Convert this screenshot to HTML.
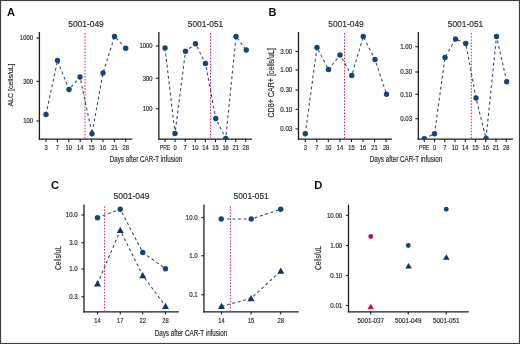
<!DOCTYPE html>
<html><head><meta charset="utf-8"><style>html,body{margin:0;padding:0;background:#fff;}svg{display:block;filter:blur(0.3px);}</style></head><body>
<svg width="520" height="344" viewBox="0 0 520 344" font-family="'Liberation Sans', sans-serif">
<rect x="0" y="0" width="520" height="344" fill="#fff"/>
<rect x="0.55" y="0.55" width="518.9" height="342.9" fill="none" stroke="#404040" stroke-width="1.1"/>
<text x="7" y="16" font-size="11" text-anchor="start" font-weight="bold" fill="#111">A</text>
<text x="86" y="26.8" font-size="9.5" text-anchor="middle" font-weight="normal" fill="#2a2a2a" stroke="#2a2a2a" stroke-width="0.18" textLength="35.5" lengthAdjust="spacingAndGlyphs">5001-049</text>
<text x="205.5" y="26.8" font-size="9.5" text-anchor="middle" font-weight="normal" fill="#2a2a2a" stroke="#2a2a2a" stroke-width="0.18" textLength="35.5" lengthAdjust="spacingAndGlyphs">5001-051</text>
<line x1="39.4" y1="32" x2="39.4" y2="139.75" stroke="#1e1e1e" stroke-width="1.3"/>
<line x1="38.75" y1="139.1" x2="132.3" y2="139.1" stroke="#1e1e1e" stroke-width="1.3"/>
<line x1="36.4" y1="38" x2="39.4" y2="38" stroke="#1e1e1e" stroke-width="1.1"/>
<text x="33.1" y="40.3" font-size="6.5" text-anchor="end" font-weight="normal" fill="#2a2a2a" stroke="#2a2a2a" stroke-width="0.18" textLength="13" lengthAdjust="spacingAndGlyphs">1000</text>
<line x1="36.4" y1="81.3" x2="39.4" y2="81.3" stroke="#1e1e1e" stroke-width="1.1"/>
<text x="33.1" y="83.6" font-size="6.5" text-anchor="end" font-weight="normal" fill="#2a2a2a" stroke="#2a2a2a" stroke-width="0.18" textLength="9.75" lengthAdjust="spacingAndGlyphs">300</text>
<line x1="36.4" y1="121" x2="39.4" y2="121" stroke="#1e1e1e" stroke-width="1.1"/>
<text x="33.1" y="123.3" font-size="6.5" text-anchor="end" font-weight="normal" fill="#2a2a2a" stroke="#2a2a2a" stroke-width="0.18" textLength="9.75" lengthAdjust="spacingAndGlyphs">100</text>
<line x1="46" y1="139.1" x2="46" y2="142.1" stroke="#1e1e1e" stroke-width="1.1"/>
<text x="46" y="150.4" font-size="7.3" text-anchor="middle" font-weight="normal" fill="#2a2a2a" stroke="#2a2a2a" stroke-width="0.18" textLength="3.2" lengthAdjust="spacingAndGlyphs">3</text>
<line x1="57.4" y1="139.1" x2="57.4" y2="142.1" stroke="#1e1e1e" stroke-width="1.1"/>
<text x="57.4" y="150.4" font-size="7.3" text-anchor="middle" font-weight="normal" fill="#2a2a2a" stroke="#2a2a2a" stroke-width="0.18" textLength="3.2" lengthAdjust="spacingAndGlyphs">7</text>
<line x1="68.8" y1="139.1" x2="68.8" y2="142.1" stroke="#1e1e1e" stroke-width="1.1"/>
<text x="68.8" y="150.4" font-size="7.3" text-anchor="middle" font-weight="normal" fill="#2a2a2a" stroke="#2a2a2a" stroke-width="0.18" textLength="6.4" lengthAdjust="spacingAndGlyphs">10</text>
<line x1="80.2" y1="139.1" x2="80.2" y2="142.1" stroke="#1e1e1e" stroke-width="1.1"/>
<text x="80.2" y="150.4" font-size="7.3" text-anchor="middle" font-weight="normal" fill="#2a2a2a" stroke="#2a2a2a" stroke-width="0.18" textLength="6.4" lengthAdjust="spacingAndGlyphs">14</text>
<line x1="91.6" y1="139.1" x2="91.6" y2="142.1" stroke="#1e1e1e" stroke-width="1.1"/>
<text x="91.6" y="150.4" font-size="7.3" text-anchor="middle" font-weight="normal" fill="#2a2a2a" stroke="#2a2a2a" stroke-width="0.18" textLength="6.4" lengthAdjust="spacingAndGlyphs">15</text>
<line x1="103" y1="139.1" x2="103" y2="142.1" stroke="#1e1e1e" stroke-width="1.1"/>
<text x="103" y="150.4" font-size="7.3" text-anchor="middle" font-weight="normal" fill="#2a2a2a" stroke="#2a2a2a" stroke-width="0.18" textLength="6.4" lengthAdjust="spacingAndGlyphs">16</text>
<line x1="114.4" y1="139.1" x2="114.4" y2="142.1" stroke="#1e1e1e" stroke-width="1.1"/>
<text x="114.4" y="150.4" font-size="7.3" text-anchor="middle" font-weight="normal" fill="#2a2a2a" stroke="#2a2a2a" stroke-width="0.18" textLength="6.4" lengthAdjust="spacingAndGlyphs">21</text>
<line x1="125.8" y1="139.1" x2="125.8" y2="142.1" stroke="#1e1e1e" stroke-width="1.1"/>
<text x="125.8" y="150.4" font-size="7.3" text-anchor="middle" font-weight="normal" fill="#2a2a2a" stroke="#2a2a2a" stroke-width="0.18" textLength="6.4" lengthAdjust="spacingAndGlyphs">28</text>
<line x1="85" y1="33.2" x2="85" y2="138.6" stroke="#d42a52" stroke-width="1" stroke-dasharray="1.6 1.45"/>
<clipPath id="c1"><rect x="0" y="0" width="520" height="139.1"/></clipPath><g clip-path="url(#c1)">
<polyline points="46,114.5 57.5,60.5 69,89.5 80,77 92,133.75 103,73 114.5,36.5 125.75,48.25" fill="none" stroke="#30506f" stroke-width="1.1" stroke-dasharray="2.9 2.7"/>
<circle cx="46" cy="114.5" r="2.7" fill="#164574"/>
<circle cx="57.5" cy="60.5" r="2.7" fill="#164574"/>
<circle cx="69" cy="89.5" r="2.7" fill="#164574"/>
<circle cx="80" cy="77" r="2.7" fill="#164574"/>
<circle cx="92" cy="133.75" r="2.7" fill="#164574"/>
<circle cx="103" cy="73" r="2.7" fill="#164574"/>
<circle cx="114.5" cy="36.5" r="2.7" fill="#164574"/>
<circle cx="125.75" cy="48.25" r="2.7" fill="#164574"/>
</g>
<line x1="158.85" y1="32" x2="158.85" y2="139.75" stroke="#1e1e1e" stroke-width="1.3"/>
<line x1="158.2" y1="139.1" x2="252" y2="139.1" stroke="#1e1e1e" stroke-width="1.3"/>
<line x1="155.85" y1="46" x2="158.85" y2="46" stroke="#1e1e1e" stroke-width="1.1"/>
<text x="152.55" y="48.3" font-size="6.5" text-anchor="end" font-weight="normal" fill="#2a2a2a" stroke="#2a2a2a" stroke-width="0.18" textLength="13" lengthAdjust="spacingAndGlyphs">1000</text>
<line x1="155.85" y1="78.25" x2="158.85" y2="78.25" stroke="#1e1e1e" stroke-width="1.1"/>
<text x="152.55" y="80.55" font-size="6.5" text-anchor="end" font-weight="normal" fill="#2a2a2a" stroke="#2a2a2a" stroke-width="0.18" textLength="9.75" lengthAdjust="spacingAndGlyphs">300</text>
<line x1="155.85" y1="108.75" x2="158.85" y2="108.75" stroke="#1e1e1e" stroke-width="1.1"/>
<text x="152.55" y="111.05" font-size="6.5" text-anchor="end" font-weight="normal" fill="#2a2a2a" stroke="#2a2a2a" stroke-width="0.18" textLength="9.75" lengthAdjust="spacingAndGlyphs">100</text>
<line x1="165" y1="139.1" x2="165" y2="142.1" stroke="#1e1e1e" stroke-width="1.1"/>
<text x="165" y="150.4" font-size="7.3" text-anchor="middle" font-weight="normal" fill="#2a2a2a" stroke="#2a2a2a" stroke-width="0.18" textLength="10.5" lengthAdjust="spacingAndGlyphs">PRE</text>
<line x1="175.1" y1="139.1" x2="175.1" y2="142.1" stroke="#1e1e1e" stroke-width="1.1"/>
<text x="175.1" y="150.4" font-size="7.3" text-anchor="middle" font-weight="normal" fill="#2a2a2a" stroke="#2a2a2a" stroke-width="0.18" textLength="3.2" lengthAdjust="spacingAndGlyphs">0</text>
<line x1="185.2" y1="139.1" x2="185.2" y2="142.1" stroke="#1e1e1e" stroke-width="1.1"/>
<text x="185.2" y="150.4" font-size="7.3" text-anchor="middle" font-weight="normal" fill="#2a2a2a" stroke="#2a2a2a" stroke-width="0.18" textLength="3.2" lengthAdjust="spacingAndGlyphs">7</text>
<line x1="195.3" y1="139.1" x2="195.3" y2="142.1" stroke="#1e1e1e" stroke-width="1.1"/>
<text x="195.3" y="150.4" font-size="7.3" text-anchor="middle" font-weight="normal" fill="#2a2a2a" stroke="#2a2a2a" stroke-width="0.18" textLength="6.4" lengthAdjust="spacingAndGlyphs">10</text>
<line x1="205.4" y1="139.1" x2="205.4" y2="142.1" stroke="#1e1e1e" stroke-width="1.1"/>
<text x="205.4" y="150.4" font-size="7.3" text-anchor="middle" font-weight="normal" fill="#2a2a2a" stroke="#2a2a2a" stroke-width="0.18" textLength="6.4" lengthAdjust="spacingAndGlyphs">14</text>
<line x1="215.5" y1="139.1" x2="215.5" y2="142.1" stroke="#1e1e1e" stroke-width="1.1"/>
<text x="215.5" y="150.4" font-size="7.3" text-anchor="middle" font-weight="normal" fill="#2a2a2a" stroke="#2a2a2a" stroke-width="0.18" textLength="6.4" lengthAdjust="spacingAndGlyphs">15</text>
<line x1="225.6" y1="139.1" x2="225.6" y2="142.1" stroke="#1e1e1e" stroke-width="1.1"/>
<text x="225.6" y="150.4" font-size="7.3" text-anchor="middle" font-weight="normal" fill="#2a2a2a" stroke="#2a2a2a" stroke-width="0.18" textLength="6.4" lengthAdjust="spacingAndGlyphs">16</text>
<line x1="235.7" y1="139.1" x2="235.7" y2="142.1" stroke="#1e1e1e" stroke-width="1.1"/>
<text x="235.7" y="150.4" font-size="7.3" text-anchor="middle" font-weight="normal" fill="#2a2a2a" stroke="#2a2a2a" stroke-width="0.18" textLength="6.4" lengthAdjust="spacingAndGlyphs">21</text>
<line x1="245.8" y1="139.1" x2="245.8" y2="142.1" stroke="#1e1e1e" stroke-width="1.1"/>
<text x="245.8" y="150.4" font-size="7.3" text-anchor="middle" font-weight="normal" fill="#2a2a2a" stroke="#2a2a2a" stroke-width="0.18" textLength="6.4" lengthAdjust="spacingAndGlyphs">28</text>
<line x1="210.5" y1="33.2" x2="210.5" y2="138.6" stroke="#d42a52" stroke-width="1" stroke-dasharray="1.6 1.45"/>
<clipPath id="c2"><rect x="0" y="0" width="520" height="139.1"/></clipPath><g clip-path="url(#c2)">
<polyline points="165,48 175,133.5 185.5,51.25 195.5,43.75 205.5,63.5 215.75,118.5 225.75,138.5 236,36.5 246.25,50" fill="none" stroke="#30506f" stroke-width="1.1" stroke-dasharray="2.9 2.7"/>
<circle cx="165" cy="48" r="2.7" fill="#164574"/>
<circle cx="175" cy="133.5" r="2.7" fill="#164574"/>
<circle cx="185.5" cy="51.25" r="2.7" fill="#164574"/>
<circle cx="195.5" cy="43.75" r="2.7" fill="#164574"/>
<circle cx="205.5" cy="63.5" r="2.7" fill="#164574"/>
<circle cx="215.75" cy="118.5" r="2.7" fill="#164574"/>
<circle cx="225.75" cy="138.5" r="2.7" fill="#164574"/>
<circle cx="236" cy="36.5" r="2.7" fill="#164574"/>
<circle cx="246.25" cy="50" r="2.7" fill="#164574"/>
</g>
<text x="146" y="162.2" font-size="9" text-anchor="middle" font-weight="normal" fill="#2a2a2a" stroke="#2a2a2a" stroke-width="0.18" textLength="72.5" lengthAdjust="spacingAndGlyphs">Days after CAR-T infusion</text>
<text x="12.8" y="85" font-size="8" text-anchor="middle" font-weight="normal" fill="#2a2a2a" stroke="#2a2a2a" stroke-width="0.18" textLength="43" lengthAdjust="spacingAndGlyphs" transform="rotate(-90 12.8 85)">ALC [cells/uL]</text>
<text x="268.5" y="16" font-size="11" text-anchor="start" font-weight="bold" fill="#111">B</text>
<text x="346" y="26.8" font-size="9.5" text-anchor="middle" font-weight="normal" fill="#2a2a2a" stroke="#2a2a2a" stroke-width="0.18" textLength="35.5" lengthAdjust="spacingAndGlyphs">5001-049</text>
<text x="465.5" y="26.8" font-size="9.5" text-anchor="middle" font-weight="normal" fill="#2a2a2a" stroke="#2a2a2a" stroke-width="0.18" textLength="35.5" lengthAdjust="spacingAndGlyphs">5001-051</text>
<line x1="298.5" y1="32" x2="298.5" y2="139.75" stroke="#1e1e1e" stroke-width="1.3"/>
<line x1="297.85" y1="139.1" x2="392" y2="139.1" stroke="#1e1e1e" stroke-width="1.3"/>
<line x1="295.5" y1="51.5" x2="298.5" y2="51.5" stroke="#1e1e1e" stroke-width="1.1"/>
<text x="292.2" y="53.8" font-size="6.5" text-anchor="end" font-weight="normal" fill="#2a2a2a" stroke="#2a2a2a" stroke-width="0.18" textLength="11.9" lengthAdjust="spacingAndGlyphs">3.00</text>
<line x1="295.5" y1="70" x2="298.5" y2="70" stroke="#1e1e1e" stroke-width="1.1"/>
<text x="292.2" y="72.3" font-size="6.5" text-anchor="end" font-weight="normal" fill="#2a2a2a" stroke="#2a2a2a" stroke-width="0.18" textLength="11.9" lengthAdjust="spacingAndGlyphs">1.00</text>
<line x1="295.5" y1="90" x2="298.5" y2="90" stroke="#1e1e1e" stroke-width="1.1"/>
<text x="292.2" y="92.3" font-size="6.5" text-anchor="end" font-weight="normal" fill="#2a2a2a" stroke="#2a2a2a" stroke-width="0.18" textLength="11.9" lengthAdjust="spacingAndGlyphs">0.30</text>
<line x1="295.5" y1="109.3" x2="298.5" y2="109.3" stroke="#1e1e1e" stroke-width="1.1"/>
<text x="292.2" y="111.6" font-size="6.5" text-anchor="end" font-weight="normal" fill="#2a2a2a" stroke="#2a2a2a" stroke-width="0.18" textLength="11.9" lengthAdjust="spacingAndGlyphs">0.10</text>
<line x1="295.5" y1="129" x2="298.5" y2="129" stroke="#1e1e1e" stroke-width="1.1"/>
<text x="292.2" y="131.3" font-size="6.5" text-anchor="end" font-weight="normal" fill="#2a2a2a" stroke="#2a2a2a" stroke-width="0.18" textLength="11.9" lengthAdjust="spacingAndGlyphs">0.03</text>
<line x1="305.25" y1="139.1" x2="305.25" y2="142.1" stroke="#1e1e1e" stroke-width="1.1"/>
<text x="305.25" y="150.4" font-size="7.3" text-anchor="middle" font-weight="normal" fill="#2a2a2a" stroke="#2a2a2a" stroke-width="0.18" textLength="3.2" lengthAdjust="spacingAndGlyphs">3</text>
<line x1="316.8" y1="139.1" x2="316.8" y2="142.1" stroke="#1e1e1e" stroke-width="1.1"/>
<text x="316.8" y="150.4" font-size="7.3" text-anchor="middle" font-weight="normal" fill="#2a2a2a" stroke="#2a2a2a" stroke-width="0.18" textLength="3.2" lengthAdjust="spacingAndGlyphs">7</text>
<line x1="328.35" y1="139.1" x2="328.35" y2="142.1" stroke="#1e1e1e" stroke-width="1.1"/>
<text x="328.35" y="150.4" font-size="7.3" text-anchor="middle" font-weight="normal" fill="#2a2a2a" stroke="#2a2a2a" stroke-width="0.18" textLength="6.4" lengthAdjust="spacingAndGlyphs">10</text>
<line x1="339.9" y1="139.1" x2="339.9" y2="142.1" stroke="#1e1e1e" stroke-width="1.1"/>
<text x="339.9" y="150.4" font-size="7.3" text-anchor="middle" font-weight="normal" fill="#2a2a2a" stroke="#2a2a2a" stroke-width="0.18" textLength="6.4" lengthAdjust="spacingAndGlyphs">14</text>
<line x1="351.45" y1="139.1" x2="351.45" y2="142.1" stroke="#1e1e1e" stroke-width="1.1"/>
<text x="351.45" y="150.4" font-size="7.3" text-anchor="middle" font-weight="normal" fill="#2a2a2a" stroke="#2a2a2a" stroke-width="0.18" textLength="6.4" lengthAdjust="spacingAndGlyphs">15</text>
<line x1="363" y1="139.1" x2="363" y2="142.1" stroke="#1e1e1e" stroke-width="1.1"/>
<text x="363" y="150.4" font-size="7.3" text-anchor="middle" font-weight="normal" fill="#2a2a2a" stroke="#2a2a2a" stroke-width="0.18" textLength="6.4" lengthAdjust="spacingAndGlyphs">16</text>
<line x1="374.55" y1="139.1" x2="374.55" y2="142.1" stroke="#1e1e1e" stroke-width="1.1"/>
<text x="374.55" y="150.4" font-size="7.3" text-anchor="middle" font-weight="normal" fill="#2a2a2a" stroke="#2a2a2a" stroke-width="0.18" textLength="6.4" lengthAdjust="spacingAndGlyphs">21</text>
<line x1="386.1" y1="139.1" x2="386.1" y2="142.1" stroke="#1e1e1e" stroke-width="1.1"/>
<text x="386.1" y="150.4" font-size="7.3" text-anchor="middle" font-weight="normal" fill="#2a2a2a" stroke="#2a2a2a" stroke-width="0.18" textLength="6.4" lengthAdjust="spacingAndGlyphs">28</text>
<line x1="344.5" y1="33.2" x2="344.5" y2="138.6" stroke="#d42a52" stroke-width="1" stroke-dasharray="1.6 1.45"/>
<clipPath id="c3"><rect x="0" y="0" width="520" height="139.1"/></clipPath><g clip-path="url(#c3)">
<polyline points="305.25,133.75 317,47.5 328.5,69.5 340,55 351.75,75.5 363.25,36.5 375,59.5 386.5,94.25" fill="none" stroke="#30506f" stroke-width="1.1" stroke-dasharray="2.9 2.7"/>
<circle cx="305.25" cy="133.75" r="2.7" fill="#164574"/>
<circle cx="317" cy="47.5" r="2.7" fill="#164574"/>
<circle cx="328.5" cy="69.5" r="2.7" fill="#164574"/>
<circle cx="340" cy="55" r="2.7" fill="#164574"/>
<circle cx="351.75" cy="75.5" r="2.7" fill="#164574"/>
<circle cx="363.25" cy="36.5" r="2.7" fill="#164574"/>
<circle cx="375" cy="59.5" r="2.7" fill="#164574"/>
<circle cx="386.5" cy="94.25" r="2.7" fill="#164574"/>
</g>
<line x1="418.35" y1="32" x2="418.35" y2="139.75" stroke="#1e1e1e" stroke-width="1.3"/>
<line x1="417.7" y1="139.1" x2="513" y2="139.1" stroke="#1e1e1e" stroke-width="1.3"/>
<line x1="415.35" y1="46.75" x2="418.35" y2="46.75" stroke="#1e1e1e" stroke-width="1.1"/>
<text x="412.05" y="49.05" font-size="6.5" text-anchor="end" font-weight="normal" fill="#2a2a2a" stroke="#2a2a2a" stroke-width="0.18" textLength="11.9" lengthAdjust="spacingAndGlyphs">1.00</text>
<line x1="415.35" y1="72" x2="418.35" y2="72" stroke="#1e1e1e" stroke-width="1.1"/>
<text x="412.05" y="74.3" font-size="6.5" text-anchor="end" font-weight="normal" fill="#2a2a2a" stroke="#2a2a2a" stroke-width="0.18" textLength="11.9" lengthAdjust="spacingAndGlyphs">0.30</text>
<line x1="415.35" y1="94.25" x2="418.35" y2="94.25" stroke="#1e1e1e" stroke-width="1.1"/>
<text x="412.05" y="96.55" font-size="6.5" text-anchor="end" font-weight="normal" fill="#2a2a2a" stroke="#2a2a2a" stroke-width="0.18" textLength="11.9" lengthAdjust="spacingAndGlyphs">0.10</text>
<line x1="415.35" y1="118.75" x2="418.35" y2="118.75" stroke="#1e1e1e" stroke-width="1.1"/>
<text x="412.05" y="121.05" font-size="6.5" text-anchor="end" font-weight="normal" fill="#2a2a2a" stroke="#2a2a2a" stroke-width="0.18" textLength="11.9" lengthAdjust="spacingAndGlyphs">0.03</text>
<line x1="424.25" y1="139.1" x2="424.25" y2="142.1" stroke="#1e1e1e" stroke-width="1.1"/>
<text x="424.25" y="150.4" font-size="7.3" text-anchor="middle" font-weight="normal" fill="#2a2a2a" stroke="#2a2a2a" stroke-width="0.18" textLength="10.5" lengthAdjust="spacingAndGlyphs">PRE</text>
<line x1="434.5" y1="139.1" x2="434.5" y2="142.1" stroke="#1e1e1e" stroke-width="1.1"/>
<text x="434.5" y="150.4" font-size="7.3" text-anchor="middle" font-weight="normal" fill="#2a2a2a" stroke="#2a2a2a" stroke-width="0.18" textLength="3.2" lengthAdjust="spacingAndGlyphs">0</text>
<line x1="444.75" y1="139.1" x2="444.75" y2="142.1" stroke="#1e1e1e" stroke-width="1.1"/>
<text x="444.75" y="150.4" font-size="7.3" text-anchor="middle" font-weight="normal" fill="#2a2a2a" stroke="#2a2a2a" stroke-width="0.18" textLength="3.2" lengthAdjust="spacingAndGlyphs">7</text>
<line x1="455" y1="139.1" x2="455" y2="142.1" stroke="#1e1e1e" stroke-width="1.1"/>
<text x="455" y="150.4" font-size="7.3" text-anchor="middle" font-weight="normal" fill="#2a2a2a" stroke="#2a2a2a" stroke-width="0.18" textLength="6.4" lengthAdjust="spacingAndGlyphs">10</text>
<line x1="465.25" y1="139.1" x2="465.25" y2="142.1" stroke="#1e1e1e" stroke-width="1.1"/>
<text x="465.25" y="150.4" font-size="7.3" text-anchor="middle" font-weight="normal" fill="#2a2a2a" stroke="#2a2a2a" stroke-width="0.18" textLength="6.4" lengthAdjust="spacingAndGlyphs">14</text>
<line x1="475.5" y1="139.1" x2="475.5" y2="142.1" stroke="#1e1e1e" stroke-width="1.1"/>
<text x="475.5" y="150.4" font-size="7.3" text-anchor="middle" font-weight="normal" fill="#2a2a2a" stroke="#2a2a2a" stroke-width="0.18" textLength="6.4" lengthAdjust="spacingAndGlyphs">15</text>
<line x1="485.75" y1="139.1" x2="485.75" y2="142.1" stroke="#1e1e1e" stroke-width="1.1"/>
<text x="485.75" y="150.4" font-size="7.3" text-anchor="middle" font-weight="normal" fill="#2a2a2a" stroke="#2a2a2a" stroke-width="0.18" textLength="6.4" lengthAdjust="spacingAndGlyphs">16</text>
<line x1="496" y1="139.1" x2="496" y2="142.1" stroke="#1e1e1e" stroke-width="1.1"/>
<text x="496" y="150.4" font-size="7.3" text-anchor="middle" font-weight="normal" fill="#2a2a2a" stroke="#2a2a2a" stroke-width="0.18" textLength="6.4" lengthAdjust="spacingAndGlyphs">21</text>
<line x1="506.25" y1="139.1" x2="506.25" y2="142.1" stroke="#1e1e1e" stroke-width="1.1"/>
<text x="506.25" y="150.4" font-size="7.3" text-anchor="middle" font-weight="normal" fill="#2a2a2a" stroke="#2a2a2a" stroke-width="0.18" textLength="6.4" lengthAdjust="spacingAndGlyphs">28</text>
<line x1="471.25" y1="33.2" x2="471.25" y2="138.6" stroke="#d42a52" stroke-width="1" stroke-dasharray="1.6 1.45"/>
<clipPath id="c4"><rect x="0" y="0" width="520" height="139.1"/></clipPath><g clip-path="url(#c4)">
<polyline points="424.25,138.75 434.5,133.75 445,57.5 455.5,39 465.75,43.5 476,98 486,138.5 496.5,36.5 506.75,81.75" fill="none" stroke="#30506f" stroke-width="1.1" stroke-dasharray="2.9 2.7"/>
<circle cx="424.25" cy="138.75" r="2.7" fill="#164574"/>
<circle cx="434.5" cy="133.75" r="2.7" fill="#164574"/>
<circle cx="445" cy="57.5" r="2.7" fill="#164574"/>
<circle cx="455.5" cy="39" r="2.7" fill="#164574"/>
<circle cx="465.75" cy="43.5" r="2.7" fill="#164574"/>
<circle cx="476" cy="98" r="2.7" fill="#164574"/>
<circle cx="486" cy="138.5" r="2.7" fill="#164574"/>
<circle cx="496.5" cy="36.5" r="2.7" fill="#164574"/>
<circle cx="506.75" cy="81.75" r="2.7" fill="#164574"/>
</g>
<text x="406" y="162.2" font-size="9" text-anchor="middle" font-weight="normal" fill="#2a2a2a" stroke="#2a2a2a" stroke-width="0.18" textLength="72.5" lengthAdjust="spacingAndGlyphs">Days after CAR-T infusion</text>
<text x="274.1" y="82.8" font-size="8.5" text-anchor="middle" font-weight="normal" fill="#2a2a2a" stroke="#2a2a2a" stroke-width="0.18" textLength="69.5" lengthAdjust="spacingAndGlyphs" transform="rotate(-90 274.1 82.8)">CD8+ CAR+ [cells/uL]</text>
<text x="51" y="188.7" font-size="11.2" text-anchor="start" font-weight="bold" fill="#111">C</text>
<text x="131.5" y="198.7" font-size="9.2" text-anchor="middle" font-weight="normal" fill="#2a2a2a" stroke="#2a2a2a" stroke-width="0.18" textLength="36" lengthAdjust="spacingAndGlyphs">5001-049</text>
<text x="251.1" y="198.6" font-size="9.2" text-anchor="middle" font-weight="normal" fill="#2a2a2a" stroke="#2a2a2a" stroke-width="0.18" textLength="35" lengthAdjust="spacingAndGlyphs">5001-051</text>
<line x1="84" y1="204.5" x2="84" y2="312.5" stroke="#1e1e1e" stroke-width="1.3"/>
<line x1="83.35" y1="311.85" x2="178.9" y2="311.85" stroke="#1e1e1e" stroke-width="1.3"/>
<line x1="81.4" y1="215" x2="84" y2="215" stroke="#1e1e1e" stroke-width="1.1"/>
<text x="77.7" y="217.3" font-size="6.5" text-anchor="end" font-weight="normal" fill="#2a2a2a" stroke="#2a2a2a" stroke-width="0.18" textLength="11.9" lengthAdjust="spacingAndGlyphs">10.0</text>
<line x1="81.4" y1="242.75" x2="84" y2="242.75" stroke="#1e1e1e" stroke-width="1.1"/>
<text x="77.7" y="245.05" font-size="6.5" text-anchor="end" font-weight="normal" fill="#2a2a2a" stroke="#2a2a2a" stroke-width="0.18" textLength="8.5" lengthAdjust="spacingAndGlyphs">3.0</text>
<line x1="81.4" y1="269" x2="84" y2="269" stroke="#1e1e1e" stroke-width="1.1"/>
<text x="77.7" y="271.3" font-size="6.5" text-anchor="end" font-weight="normal" fill="#2a2a2a" stroke="#2a2a2a" stroke-width="0.18" textLength="8.5" lengthAdjust="spacingAndGlyphs">1.0</text>
<line x1="81.4" y1="296.75" x2="84" y2="296.75" stroke="#1e1e1e" stroke-width="1.1"/>
<text x="77.7" y="299.05" font-size="6.5" text-anchor="end" font-weight="normal" fill="#2a2a2a" stroke="#2a2a2a" stroke-width="0.18" textLength="8.5" lengthAdjust="spacingAndGlyphs">0.3</text>
<line x1="97.5" y1="311.85" x2="97.5" y2="314.45" stroke="#1e1e1e" stroke-width="1.1"/>
<text x="97.5" y="323.2" font-size="7.3" text-anchor="middle" font-weight="normal" fill="#2a2a2a" stroke="#2a2a2a" stroke-width="0.18" textLength="6.4" lengthAdjust="spacingAndGlyphs">14</text>
<line x1="120.25" y1="311.85" x2="120.25" y2="314.45" stroke="#1e1e1e" stroke-width="1.1"/>
<text x="120.25" y="323.2" font-size="7.3" text-anchor="middle" font-weight="normal" fill="#2a2a2a" stroke="#2a2a2a" stroke-width="0.18" textLength="6.4" lengthAdjust="spacingAndGlyphs">17</text>
<line x1="142.75" y1="311.85" x2="142.75" y2="314.45" stroke="#1e1e1e" stroke-width="1.1"/>
<text x="142.75" y="323.2" font-size="7.3" text-anchor="middle" font-weight="normal" fill="#2a2a2a" stroke="#2a2a2a" stroke-width="0.18" textLength="6.4" lengthAdjust="spacingAndGlyphs">22</text>
<line x1="165.5" y1="311.85" x2="165.5" y2="314.45" stroke="#1e1e1e" stroke-width="1.1"/>
<text x="165.5" y="323.2" font-size="7.3" text-anchor="middle" font-weight="normal" fill="#2a2a2a" stroke="#2a2a2a" stroke-width="0.18" textLength="6.4" lengthAdjust="spacingAndGlyphs">28</text>
<line x1="104.6" y1="206.3" x2="104.6" y2="310.6" stroke="#d42a52" stroke-width="1" stroke-dasharray="1.6 1.45"/>
<polyline points="97.5,217.75 120.25,209.25 142.75,252.5 165.5,268.75" fill="none" stroke="#30506f" stroke-width="1.1" stroke-dasharray="2.9 2.7"/>
<polyline points="97.5,283.75 120.25,230.25 142.75,275.5 165.5,306.25" fill="none" stroke="#30506f" stroke-width="1.1" stroke-dasharray="2.9 2.7"/>
<circle cx="97.5" cy="217.75" r="2.7" fill="#164574"/>
<circle cx="120.25" cy="209.25" r="2.7" fill="#164574"/>
<circle cx="142.75" cy="252.5" r="2.7" fill="#164574"/>
<circle cx="165.5" cy="268.75" r="2.7" fill="#164574"/>
<polygon points="97.5,280.33 94,286.43 101,286.43" fill="#113559"/>
<polygon points="120.25,226.83 116.75,232.93 123.75,232.93" fill="#113559"/>
<polygon points="142.75,272.08 139.25,278.18 146.25,278.18" fill="#113559"/>
<polygon points="165.5,302.83 162,308.93 169,308.93" fill="#113559"/>
<line x1="203.95" y1="204.5" x2="203.95" y2="312.5" stroke="#1e1e1e" stroke-width="1.3"/>
<line x1="203.3" y1="311.85" x2="298.8" y2="311.85" stroke="#1e1e1e" stroke-width="1.3"/>
<line x1="201.35" y1="217.5" x2="203.95" y2="217.5" stroke="#1e1e1e" stroke-width="1.1"/>
<text x="197.65" y="219.8" font-size="6.5" text-anchor="end" font-weight="normal" fill="#2a2a2a" stroke="#2a2a2a" stroke-width="0.18" textLength="11.9" lengthAdjust="spacingAndGlyphs">10.0</text>
<line x1="201.35" y1="255.75" x2="203.95" y2="255.75" stroke="#1e1e1e" stroke-width="1.1"/>
<text x="197.65" y="258.05" font-size="6.5" text-anchor="end" font-weight="normal" fill="#2a2a2a" stroke="#2a2a2a" stroke-width="0.18" textLength="8.5" lengthAdjust="spacingAndGlyphs">1.0</text>
<line x1="201.35" y1="294.75" x2="203.95" y2="294.75" stroke="#1e1e1e" stroke-width="1.1"/>
<text x="197.65" y="297.05" font-size="6.5" text-anchor="end" font-weight="normal" fill="#2a2a2a" stroke="#2a2a2a" stroke-width="0.18" textLength="8.5" lengthAdjust="spacingAndGlyphs">0.1</text>
<line x1="221.5" y1="311.85" x2="221.5" y2="314.45" stroke="#1e1e1e" stroke-width="1.1"/>
<text x="221.5" y="323.2" font-size="7.3" text-anchor="middle" font-weight="normal" fill="#2a2a2a" stroke="#2a2a2a" stroke-width="0.18" textLength="6.4" lengthAdjust="spacingAndGlyphs">14</text>
<line x1="251.1" y1="311.85" x2="251.1" y2="314.45" stroke="#1e1e1e" stroke-width="1.1"/>
<text x="251.1" y="323.2" font-size="7.3" text-anchor="middle" font-weight="normal" fill="#2a2a2a" stroke="#2a2a2a" stroke-width="0.18" textLength="6.4" lengthAdjust="spacingAndGlyphs">15</text>
<line x1="280.75" y1="311.85" x2="280.75" y2="314.45" stroke="#1e1e1e" stroke-width="1.1"/>
<text x="280.75" y="323.2" font-size="7.3" text-anchor="middle" font-weight="normal" fill="#2a2a2a" stroke="#2a2a2a" stroke-width="0.18" textLength="6.4" lengthAdjust="spacingAndGlyphs">28</text>
<line x1="230.4" y1="206.3" x2="230.4" y2="310.6" stroke="#d42a52" stroke-width="1" stroke-dasharray="1.6 1.45"/>
<polyline points="221.25,219 251.25,219 280.75,209.25" fill="none" stroke="#30506f" stroke-width="1.1" stroke-dasharray="2.9 2.7"/>
<polyline points="221.5,306.25 251,298.5 280.75,271" fill="none" stroke="#30506f" stroke-width="1.1" stroke-dasharray="2.9 2.7"/>
<circle cx="221.25" cy="219" r="2.7" fill="#164574"/>
<circle cx="251.25" cy="219" r="2.7" fill="#164574"/>
<circle cx="280.75" cy="209.25" r="2.7" fill="#164574"/>
<polygon points="221.5,302.83 218,308.93 225,308.93" fill="#113559"/>
<polygon points="251,295.08 247.5,301.18 254.5,301.18" fill="#113559"/>
<polygon points="280.75,267.58 277.25,273.68 284.25,273.68" fill="#113559"/>
<text x="191" y="335.6" font-size="9" text-anchor="middle" font-weight="normal" fill="#2a2a2a" stroke="#2a2a2a" stroke-width="0.18" textLength="72.7" lengthAdjust="spacingAndGlyphs">Days after CAR-T infusion</text>
<text x="60.8" y="258" font-size="8.5" text-anchor="middle" font-weight="normal" fill="#2a2a2a" stroke="#2a2a2a" stroke-width="0.18" textLength="24" lengthAdjust="spacingAndGlyphs" transform="rotate(-90 60.8 258)">Cells/uL</text>
<text x="314.2" y="188.7" font-size="11.2" text-anchor="start" font-weight="bold" fill="#111">D</text>
<line x1="348.5" y1="204.5" x2="348.5" y2="312.45" stroke="#1e1e1e" stroke-width="1.3"/>
<line x1="347.85" y1="311.8" x2="468.75" y2="311.8" stroke="#1e1e1e" stroke-width="1.3"/>
<line x1="345.9" y1="215.25" x2="348.5" y2="215.25" stroke="#1e1e1e" stroke-width="1.1"/>
<text x="342.2" y="217.55" font-size="6.5" text-anchor="end" font-weight="normal" fill="#2a2a2a" stroke="#2a2a2a" stroke-width="0.18" textLength="15.3" lengthAdjust="spacingAndGlyphs">10.00</text>
<line x1="345.9" y1="245.5" x2="348.5" y2="245.5" stroke="#1e1e1e" stroke-width="1.1"/>
<text x="342.2" y="247.8" font-size="6.5" text-anchor="end" font-weight="normal" fill="#2a2a2a" stroke="#2a2a2a" stroke-width="0.18" textLength="11.9" lengthAdjust="spacingAndGlyphs">1.00</text>
<line x1="345.9" y1="275.5" x2="348.5" y2="275.5" stroke="#1e1e1e" stroke-width="1.1"/>
<text x="342.2" y="277.8" font-size="6.5" text-anchor="end" font-weight="normal" fill="#2a2a2a" stroke="#2a2a2a" stroke-width="0.18" textLength="11.9" lengthAdjust="spacingAndGlyphs">0.10</text>
<line x1="345.9" y1="305.5" x2="348.5" y2="305.5" stroke="#1e1e1e" stroke-width="1.1"/>
<text x="342.2" y="307.8" font-size="6.5" text-anchor="end" font-weight="normal" fill="#2a2a2a" stroke="#2a2a2a" stroke-width="0.18" textLength="11.9" lengthAdjust="spacingAndGlyphs">0.01</text>
<line x1="370.75" y1="311.8" x2="370.75" y2="314.4" stroke="#1e1e1e" stroke-width="1.1"/>
<text x="370.75" y="323.2" font-size="7.3" text-anchor="middle" font-weight="normal" fill="#2a2a2a" stroke="#2a2a2a" stroke-width="0.18" textLength="26.5" lengthAdjust="spacingAndGlyphs">5001-037</text>
<line x1="408.25" y1="311.8" x2="408.25" y2="314.4" stroke="#1e1e1e" stroke-width="1.1"/>
<text x="408.25" y="323.2" font-size="7.3" text-anchor="middle" font-weight="normal" fill="#2a2a2a" stroke="#2a2a2a" stroke-width="0.18" textLength="26.5" lengthAdjust="spacingAndGlyphs">5001-049</text>
<line x1="446.25" y1="311.8" x2="446.25" y2="314.4" stroke="#1e1e1e" stroke-width="1.1"/>
<text x="446.25" y="323.2" font-size="7.3" text-anchor="middle" font-weight="normal" fill="#2a2a2a" stroke="#2a2a2a" stroke-width="0.18" textLength="26.5" lengthAdjust="spacingAndGlyphs">5001-051</text>
<circle cx="370.75" cy="236.5" r="2.4" fill="#c4123a"/>
<polygon points="370.75,303.67 367.45,309.17 374.05,309.17" fill="#c4123a"/>
<circle cx="408.25" cy="245.5" r="2.4" fill="#164574"/>
<polygon points="408.6,263.12 405.3,268.62 411.9,268.62" fill="#113559"/>
<circle cx="446.25" cy="209.25" r="2.4" fill="#164574"/>
<polygon points="446.3,254.32 443,259.82 449.6,259.82" fill="#113559"/>
<text x="321.1" y="258" font-size="8.5" text-anchor="middle" font-weight="normal" fill="#2a2a2a" stroke="#2a2a2a" stroke-width="0.18" textLength="24" lengthAdjust="spacingAndGlyphs" transform="rotate(-90 321.1 258)">Cells/uL</text>
</svg>
</body></html>
